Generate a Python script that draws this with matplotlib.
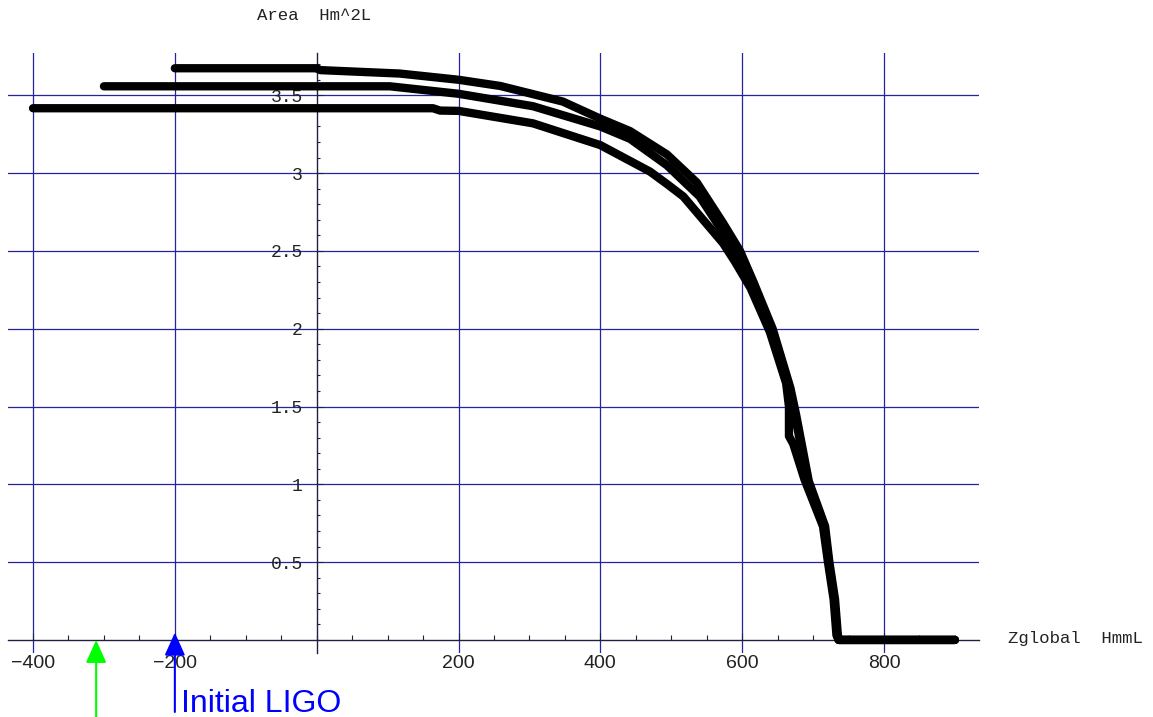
import matplotlib
matplotlib.use("Agg")
import matplotlib.pyplot as plt
from matplotlib.ticker import FixedLocator, MultipleLocator

# ---------------- data ----------------
top_x = [-200, 0, 5, 117, 200, 259, 347, 400, 442, 494, 536, 573, 597, 616, 643, 668, 676, 694, 717, 723, 731, 735, 737, 900]
top_y = [3.674, 3.674, 3.662, 3.64, 3.60, 3.56, 3.46, 3.35, 3.27, 3.12, 2.94, 2.68, 2.50, 2.30, 2.00, 1.62, 1.45, 1.02, 0.73, 0.50, 0.26, 0.03, 0.0, 0.0]

mid_x = [-300, 103, 200, 305, 400, 442, 494, 540, 573, 594, 614, 641, 665, 672, 692, 716, 722, 730, 734, 736, 900]
mid_y = [3.558, 3.558, 3.51, 3.43, 3.30, 3.22, 3.05, 2.85, 2.62, 2.45, 2.28, 2.00, 1.65, 1.50, 1.03, 0.73, 0.50, 0.26, 0.03, 0.0, 0.0]

bot_x = [-400, 164, 174, 200, 305, 400, 470, 494, 517, 573, 590, 612, 639, 662, 666, 666, 672, 688, 714, 721, 729, 733, 736, 900]
bot_y = [3.417, 3.417, 3.402, 3.40, 3.32, 3.18, 3.01, 2.93, 2.85, 2.55, 2.43, 2.26, 1.98, 1.65, 1.50, 1.31, 1.26, 1.03, 0.73, 0.50, 0.26, 0.03, 0.0, 0.0]

x_ticks = [-400, -200, 200, 400, 600, 800]
x_tick_labels = ["\u2212400", "\u2212200", "200", "400", "600", "800"]
y_ticks = [0.5, 1, 1.5, 2, 2.5, 3, 3.5]
y_tick_labels = ["0.5", "1", "1.5", "2", "2.5", "3", "3.5"]

green_arrow_x = -311
ligo_arrow_x = -200
ligo_label = "Initial LIGO"
x_label = "Zglobal  HmmL"
y_label = "Area  Hm^2L"

# ---------------- figure ----------------
W, H = 1153, 717
fig = plt.figure(figsize=(W / 100, H / 100), dpi=100)
ax = fig.add_axes([8 / W, 64 / H, 971 / W, 600 / H])
ax.set_xlim(-435.3, 934)
ax.set_ylim(-0.084, 3.772)
ax.set_axisbelow(True)

for s in ["top", "right"]:
    ax.spines[s].set_visible(False)
ax.spines["bottom"].set_position(("data", 0))
ax.spines["left"].set_position(("data", 0))
for s in ["bottom", "left"]:
    ax.spines[s].set_color("#202040")
    ax.spines[s].set_linewidth(1.0)
    ax.spines[s].set_zorder(1.5)

ax.xaxis.set_major_locator(FixedLocator(x_ticks))
ax.set_xticklabels(x_tick_labels, fontfamily="Liberation Sans", fontsize=14, color="#222222")
ax.xaxis.set_minor_locator(MultipleLocator(50))
ax.yaxis.set_major_locator(FixedLocator(y_ticks))
ax.set_yticklabels(y_tick_labels, fontfamily="Liberation Mono", fontsize=13, color="#222222")
ax.yaxis.set_minor_locator(MultipleLocator(0.1))

ax.tick_params(axis="x", which="major", direction="in", length=5, width=0.8, color="#202040", pad=11)
ax.tick_params(axis="x", which="minor", direction="in", length=3.5, width=0.8, color="#202040")
ax.tick_params(axis="y", which="major", direction="in", length=4, width=0.8, color="#202040", pad=10)
ax.tick_params(axis="y", which="minor", direction="in", length=2.5, width=0.8, color="#202040")

ax.grid(True, which="major", color="#2424a0", linewidth=0.9)

for xs, ys in [(bot_x, bot_y), (mid_x, mid_y), (top_x, top_y)]:
    ax.plot(xs, ys, color="black", lw=6, solid_capstyle="round",
            solid_joinstyle="round", zorder=3)

# arrows
ax.annotate("", xy=(green_arrow_x, 0.0), xytext=(green_arrow_x, -0.7),
            arrowprops=dict(arrowstyle="-|>,head_length=1.0,head_width=0.45",
                            mutation_scale=14, color="#00ff00", lw=1.5,
                            shrinkA=0, shrinkB=0),
            annotation_clip=False, zorder=4)
ax.annotate("", xy=(ligo_arrow_x, 0.047), xytext=(ligo_arrow_x, -0.463),
            arrowprops=dict(arrowstyle="-|>,head_length=1.0,head_width=0.45",
                            mutation_scale=14, color="#0000ff", lw=1.5,
                            shrinkA=0, shrinkB=0),
            annotation_clip=False, zorder=4)
ax.text(-191, -0.461, ligo_label, color="#0000ff", fontsize=23,
        fontfamily="Liberation Sans", ha="left", va="baseline", clip_on=False)

fig.text(257 / W, 1 - 15 / H, y_label, fontfamily="Liberation Mono", fontsize=12.5,
         ha="left", va="center", color="#222222")
fig.text(1008 / W, 1 - 638 / H, x_label, fontfamily="Liberation Mono", fontsize=12.5,
         ha="left", va="center", color="#222222")

fig.savefig("out.png", dpi=100)
